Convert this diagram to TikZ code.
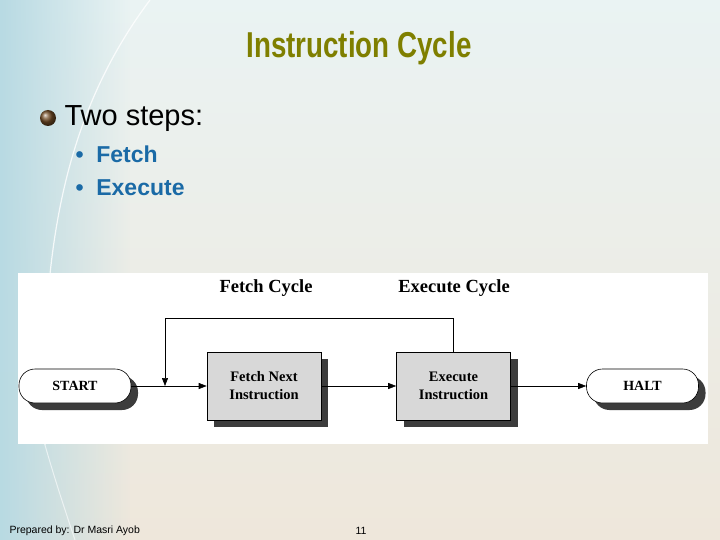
\documentclass[tikz,border=0pt]{standalone}
\usepackage{fontspec}
\setmainfont{Liberation Serif}
\newfontfamily\arialf{Liberation Sans}
\usetikzlibrary{shadows,arrows.meta,fadings}
\definecolor{olivet}{HTML}{7F7F00}
\definecolor{bulblue}{HTML}{1A6AA6}
\definecolor{boxgray}{HTML}{D8D8D8}
\definecolor{shadowc}{HTML}{3C3C3C}
\definecolor{bgtop}{HTML}{EAF3F3}
\definecolor{bgbot}{HTML}{EEE7DB}
\definecolor{bgleft}{HTML}{B8DAE3}
\tikzfading[name=fadeleft, left color=transparent!0, right color=transparent!100]
\tikzset{
  procbox/.style={draw=black, line width=0.6pt, fill=boxgray, minimum width=114pt, minimum height=68pt, align=center,
    font=\bfseries\fontsize{14.5}{18}\selectfont,
    drop shadow={shadow xshift=7pt, shadow yshift=-7pt, fill=shadowc, opacity=1}},
  termbox/.style={draw=black, line width=0.6pt, fill=white, rounded corners=16pt, minimum width=112pt, minimum height=34pt,
    font=\bfseries\fontsize{14}{16}\selectfont,
    drop shadow={shadow xshift=7pt, shadow yshift=-7pt, fill=shadowc, opacity=1}},
  arr/.style={line width=0.6pt, -{Triangle[length=8pt,width=6pt]}},
  cyclelbl/.style={font=\bfseries\fontsize{18.5}{20}\selectfont},
  bulitem/.style={anchor=west, text=bulblue, font=\arialf\bfseries\fontsize{23}{26}\selectfont}
}
\begin{document}
\begin{tikzpicture}[x=1pt,y=-1pt]
\useasboundingbox (0,0) rectangle (720,540);
% background
\shade[top color=bgtop, bottom color=bgbot] (0,0) rectangle (720,540);
\shade[left color=bgleft, right color=bgleft, path fading=fadeleft] (0,0) rectangle (130,540);
\draw[white, line width=1.2pt, opacity=0.8] (150,0) .. controls (60,120) and (40,260) .. (45,445);
\draw[white, line width=1pt, opacity=0.6] (45,445) .. controls (55,480) and (65,510) .. (75,540);
% title
\node[text=olivet, font=\arialf\bfseries\fontsize{36}{38}\selectfont, xscale=0.77] (title) at (359,48) {Instruction Cycle};
% bullets
\shade[ball color=brown!60!black] (48,118) circle (8);
\node[anchor=west, font=\arialf\fontsize{29}{32}\selectfont] (two) at (61,119) {Two steps:};
\node[bulitem] (b1) at (72,154) {\textbullet\ \ Fetch};
\node[bulitem] (b2) at (72,188) {\textbullet\ \ Execute};
% panel
\fill[white] (18,273) rectangle (708,444);
\node[cyclelbl] (fc) at (266,288) {Fetch Cycle};
\node[cyclelbl] (ec) at (454,288) {Execute Cycle};
\node[termbox] (start) at (75,386) {START};
\node[procbox] (fetch) at (264,386) {Fetch Next\\Instruction};
\node[procbox] (exec) at (453.5,386) {Execute\\Instruction};
\node[termbox] (halt) at (642.5,386) {HALT};
\coordinate (j) at (165,386);
\coordinate (top) at (165,318);
\draw[arr] (start.east) -- (fetch.west);
\draw[arr] (fetch.east) -- (exec.west);
\draw[arr] (exec.east) -- (halt.west);
\draw[arr] (exec.north) |- (top) -- (j);
% footer
\node[anchor=west, font=\arialf\fontsize{10.5}{12}\selectfont] (foot) at (6,531) {Prepared by: Dr Masri Ayob};
\node[font=\arialf\fontsize{10.5}{12}\selectfont] (pg) at (361,531) {11};
\end{tikzpicture}
\end{document}
